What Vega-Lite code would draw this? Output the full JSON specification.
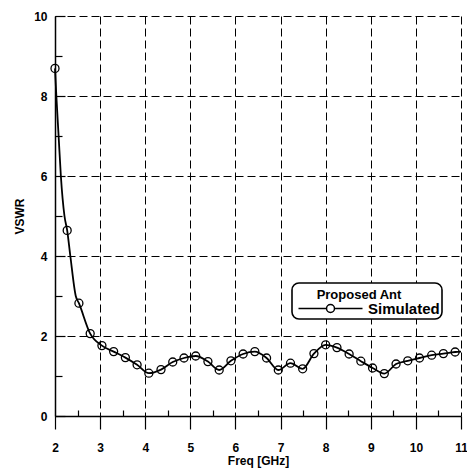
{
  "$schema": "https://vega.github.io/schema/vega-lite/v6.json",
  "width": 406,
  "height": 400,
  "autosize": "none",
  "padding": {"left": 55, "top": 16, "right": 6, "bottom": 55},
  "background": "white",
  "config": {
    "view": {"stroke": null},
    "font": "Liberation Sans",
    "axis": {
      "domainColor": "black",
      "domainWidth": 1.5,
      "tickColor": "black",
      "tickWidth": 1.2,
      "labelFont": "Liberation Sans",
      "labelFontSize": 12,
      "labelFontWeight": "bold",
      "labelColor": "black",
      "titleFont": "Liberation Sans",
      "titleFontSize": 12,
      "titleFontWeight": "bold",
      "titleColor": "black",
      "gridDash": [8, 4],
      "gridWidth": 1,
      "gridOpacity": 1
    }
  },
  "data": {
    "values": [
      {"f": 2.0, "v": 8.69, "kind": "marker"},
      {"f": 2.03, "v": 8.0, "kind": "line"},
      {"f": 2.08, "v": 7.0, "kind": "line"},
      {"f": 2.13, "v": 6.0, "kind": "line"},
      {"f": 2.21, "v": 5.0, "kind": "line"},
      {"f": 2.27, "v": 4.64, "kind": "marker"},
      {"f": 2.34, "v": 4.0, "kind": "line"},
      {"f": 2.46, "v": 3.0, "kind": "line"},
      {"f": 2.53, "v": 2.82, "kind": "marker"},
      {"f": 2.78, "v": 2.06, "kind": "marker"},
      {"f": 3.04, "v": 1.76, "kind": "marker"},
      {"f": 3.30, "v": 1.61, "kind": "marker"},
      {"f": 3.56, "v": 1.46, "kind": "marker"},
      {"f": 3.82, "v": 1.28, "kind": "marker"},
      {"f": 4.08, "v": 1.07, "kind": "marker"},
      {"f": 4.35, "v": 1.16, "kind": "marker"},
      {"f": 4.61, "v": 1.35, "kind": "marker"},
      {"f": 4.86, "v": 1.45, "kind": "marker"},
      {"f": 5.12, "v": 1.50, "kind": "marker"},
      {"f": 5.39, "v": 1.36, "kind": "marker"},
      {"f": 5.64, "v": 1.15, "kind": "marker"},
      {"f": 5.90, "v": 1.38, "kind": "marker"},
      {"f": 6.17, "v": 1.55, "kind": "marker"},
      {"f": 6.43, "v": 1.61, "kind": "marker"},
      {"f": 6.69, "v": 1.45, "kind": "marker"},
      {"f": 6.95, "v": 1.15, "kind": "marker"},
      {"f": 7.22, "v": 1.32, "kind": "marker"},
      {"f": 7.49, "v": 1.18, "kind": "marker"},
      {"f": 7.74, "v": 1.56, "kind": "marker"},
      {"f": 8.00, "v": 1.78, "kind": "marker"},
      {"f": 8.25, "v": 1.71, "kind": "marker"},
      {"f": 8.52, "v": 1.55, "kind": "marker"},
      {"f": 8.78, "v": 1.37, "kind": "marker"},
      {"f": 9.04, "v": 1.20, "kind": "marker"},
      {"f": 9.30, "v": 1.06, "kind": "marker"},
      {"f": 9.56, "v": 1.30, "kind": "marker"},
      {"f": 9.82, "v": 1.38, "kind": "marker"},
      {"f": 10.08, "v": 1.45, "kind": "marker"},
      {"f": 10.35, "v": 1.52, "kind": "marker"},
      {"f": 10.61, "v": 1.56, "kind": "marker"},
      {"f": 10.87, "v": 1.60, "kind": "marker"},
      {"f": 11.0, "v": 1.61, "kind": "line"}
    ]
  },
  "encoding": {
    "x": {
      "field": "f",
      "type": "quantitative",
      "scale": {"domain": [2, 11], "nice": false, "zero": false},
      "axis": {
        "title": "Freq [GHz]",
        "values": [2, 2.5, 3, 3.5, 4, 4.5, 5, 5.5, 6, 6.5, 7, 7.5, 8, 8.5, 9, 9.5, 10, 10.5, 11],
        "labelExpr": "datum.value % 1 === 0 ? format(datum.value, 'd') : ''",
        "grid": true,
        "gridColor": {"condition": {"test": "datum.value % 1 !== 0", "value": "transparent"}, "value": "black"},
        "tickSize": {"condition": {"test": "datum.value % 1 !== 0", "value": -6}, "value": 13},
        "labelPadding": 13,
        "titlePadding": 2,
        "labelFlush": false,
        "labelOverlap": false
      }
    },
    "y": {
      "field": "v",
      "type": "quantitative",
      "scale": {"domain": [0, 10], "nice": false, "zero": true},
      "axis": {
        "title": "VSWR",
        "values": [0, 1, 2, 3, 4, 5, 6, 7, 8, 9, 10],
        "labelExpr": "datum.value % 2 === 0 ? format(datum.value, 'd') : ''",
        "grid": true,
        "gridColor": {"condition": {"test": "datum.value % 2 !== 0", "value": "transparent"}, "value": "black"},
        "tickSize": {"condition": {"test": "datum.value % 2 !== 0", "value": -7}, "value": -10},
        "labelPadding": 18,
        "titlePadding": 7,
        "labelFlush": false,
        "labelOverlap": false
      }
    }
  },
  "layer": [
    {
      "mark": {"type": "line", "interpolate": "monotone", "strokeWidth": 1.8, "color": "black"},
      "encoding": {
        "color": {
          "datum": "Simulated",
          "scale": {"range": ["black"]},
          "legend": {
            "orient": "none",
            "legendX": 237,
            "legendY": 267,
            "title": "Proposed Ant",
            "titleFont": "Liberation Sans",
            "titleFontSize": 13,
            "titleFontWeight": "bold",
            "titleColor": "black",
            "titleAnchor": "middle",
            "titlePadding": 3,
            "labelFont": "Liberation Sans",
            "labelFontSize": 15,
            "labelFontWeight": "bold",
            "labelColor": "black",
            "symbolType": "M-8,0L-1,0M1,0L8,0M1,0A1,1,0,1,1,-1,0A1,1,0,1,1,1,0",
            "symbolSize": 64,
            "symbolStrokeWidth": 1.5,
            "symbolStrokeColor": "black",
            "symbolFillColor": "transparent",
            "symbolOffset": 29,
            "labelOffset": 30,
            "strokeColor": "black",
            "fillColor": "white",
            "cornerRadius": 7,
            "padding": 2,
            "encode": {"title": {"update": {"dx": {"value": -8}, "dy": {"value": 4}}}, "legend": {"update": {"strokeWidth": {"value": 1.6}}}}
          }
        }
      }
    },
    {
      "transform": [{"filter": "datum.kind === 'marker'"}],
      "mark": {"type": "point", "shape": "circle", "filled": false, "stroke": "black", "strokeWidth": 1.3, "size": 64, "opacity": 1}
    }
  ]
}
